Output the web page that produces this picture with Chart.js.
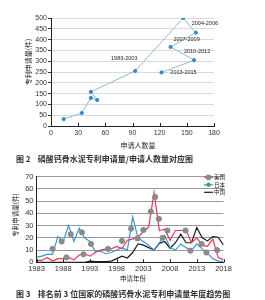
<!DOCTYPE html>
<html>
<head>
<meta charset="utf-8">
<script src="https://cdn.jsdelivr.net/npm/chart.js@4.4.0/dist/chart.umd.min.js"></script>
<style>
  body { margin: 0; width: 265px; height: 300px; background: #fff; position: relative; overflow: hidden;
         font-family: "Noto Sans CJK SC", "Liberation Sans", sans-serif; color: #222; }
  canvas { position: absolute; left: 0; }
  .t { position: absolute; white-space: nowrap; line-height: 1; }
  .c { transform: translate(-50%, -50%); }
  .v { transform: translate(-50%, -50%) rotate(-90deg); }
  .cap { font-size: 8px; font-weight: bold; transform: translateY(-50%); color: #333; }
</style>
</head>
<body>
<canvas id="fig2" width="265" height="150" style="top:0"></canvas>
<canvas id="fig3" width="265" height="110" style="top:166px"></canvas>

<div class="t v" style="left:27.7px;top:61.5px;font-size:7px">专利申请量(件)</div>
<div class="t c" style="left:138px;top:145px;font-size:7px">申请人数量</div>
<div class="t cap" style="left:16px;top:159px">图 2&nbsp;&nbsp;&nbsp;&nbsp;磷酸钙骨水泥专利申请量/申请人数量对应图</div>

<div class="t v" style="left:15px;top:215px;font-size:6.5px">专利申请量(件)</div>
<div class="t c" style="left:133px;top:278px;font-size:6.5px">申请年份</div>
<div class="t cap" style="left:16px;top:294px">图 3&nbsp;&nbsp;&nbsp;&nbsp;排名前 3 位国家的磷酸钙骨水泥专利申请量年度趋势图</div>

<script>
/* Fig 2: filings vs applicants per 3-year period */
const applicants = [14, 34, 44, 51, 44, 93, 146, 160, 132, 158, 122];
const filings = [32, 60, 130, 120, 158, 255, 500, 432, 366, 305, 248];
const periodLabels = [null, null, null, null, null, "1983-2003", null, "2004-2006", "2007-2009", "2010-2012", "2013-2015"];
const fig2XTicks = [0, 30, 60, 90, 120, 150, 180];
const fig2YTicks = [0, 50, 100, 150, 200, 250, 300, 350, 400, 450, 500];

/* Fig 3: yearly filings of the top 3 countries */
const years = [1983, 1984, 1985, 1986, 1987, 1988, 1989, 1990, 1991, 1992,
               1993, 1994, 1995, 1996, 1997, 1998, 1999, 2000, 2001, 2002,
               2003, 2004, 2005, 2006, 2007, 2008, 2009, 2010, 2011, 2012,
               2013, 2014, 2015, 2016, 2017, 2018];
const countries = ["美国", "日本", "中国"];
const usFilings = [1.5, 1.5, 4, 1, 3, 3, 4, 2, 6, 7,
                   5, 8, 10, 11, 11, 13, 11, 18, 19, 21,
                   25, 29, 57, 26, 27, 18, 26, 26, 26, 16,
                   20, 14, 13, 19, 4, 2];
const jpFilings = [4, 5, 6.5, 6.5, 21, 17, 30, 17, 28, 20,
                   17, 9, 9, 7, 8, 10, 12, 10, 37, 20,
                   17, 14, 10, 16, 22, 12, 10, 15, 12, 9.5,
                   15, 11, 7.5, 3, 1, 0.5];
const cnFilings = [0, 0, 0, 0, 0, 0, 0, 0, 0, 0,
                   1, 0.5, 0.5, 0.5, 1, 3, 5, 3.5, 8, 15,
                   14, 12, 10, 15.5, 17, 11.5, 16, 23, 16, 16,
                   28.5, 20, 17.5, 21, 20.5, 14];
const markerYears = [1986, 1987.7, 1988.6, 1989.4, 1991.5, 1991.8, 1993.2, 1996.4, 1999, 2000.7, 2001.9,
                     2003, 2004.4, 2005.2, 2005.9, 2006.6, 2007.5, 2010.9, 2011.8, 2013.9, 2014.8, 2016.8];
const markerValues = [11, 17, 4, 23, 24.5, 6.5, 15, 11, 17.5, 27.5, 19.5,
                      26.5, 41.5, 53.5, 35.5, 20, 26, 26, 9.5, 15, 8, 10];
const fig3XTicks = [1983, 1988, 1993, 1998, 2003, 2008, 2013, 2018];
const fig3YTicks = [0, 10, 20, 30, 40, 50, 60, 70];

// label placement next to its point (px offsets of the label centre)
const labelOffsets = {
  "1983-2003": [-11, -12],
  "2004-2006": [9, -9],
  "2007-2009": [16, -7],
  "2010-2012": [3, -9],
  "2013-2015": [22, 0],
};

const tickFont = { family: "Liberation Sans", size: 7 };

// small tick marks pointing up into the plot from the x axis
const insideTicks = {
  id: "insideTicks",
  afterDraw(chart) {
    const x = chart.scales.x, ctx = chart.ctx;
    ctx.save();
    ctx.strokeStyle = "#222";
    ctx.lineWidth = 1;
    x.ticks.forEach((t) => {
      const px = Math.round(x.getPixelForValue(t.value)) + 0.5;
      ctx.beginPath();
      ctx.moveTo(px, x.top);
      ctx.lineTo(px, x.top - 3);
      ctx.stroke();
    });
    ctx.restore();
  },
};

const periodLabelPlugin = {
  id: "periodLabels",
  afterDatasetsDraw(chart) {
    const meta = chart.getDatasetMeta(0), ctx = chart.ctx;
    ctx.save();
    ctx.font = "5.5px 'Liberation Sans'";
    ctx.fillStyle = "#222";
    ctx.textAlign = "center";
    ctx.textBaseline = "middle";
    periodLabels.forEach((lab, i) => {
      if (!lab) return;
      const el = meta.data[i], off = labelOffsets[lab] || [0, 0];
      ctx.fillText(lab, el.x + off[0], el.y + off[1]);
    });
    ctx.restore();
  },
};

new Chart(document.getElementById("fig2"), {
  type: "line",
  data: {
    datasets: [{
      data: applicants.map((a, i) => ({ x: a, y: filings[i] })),
      borderColor: "#8fb8dc",
      borderWidth: 1,
      pointRadius: 1.6,
      pointBackgroundColor: "#2f8bc4",
      pointBorderColor: "#2f8bc4",
      tension: 0,
    }],
  },
  options: {
    responsive: false,
    animation: false,
    layout: { padding: { top: 18, right: 51, left: 0, bottom: 0 } },
    plugins: { legend: { display: false }, tooltip: { enabled: false } },
    scales: {
      x: {
        type: "linear", min: 0, max: 180,
        afterBuildTicks: (s) => { s.ticks = fig2XTicks.map((v) => ({ value: v })); },
        afterFit: (s) => { s.height = 24; },
        grid: { display: false, drawTicks: false },
        border: { color: "#222" },
        ticks: { font: tickFont, color: "#333", padding: 3, maxRotation: 0, autoSkip: false },
      },
      y: {
        min: 0, max: 500,
        afterBuildTicks: (s) => { s.ticks = fig2YTicks.map((v) => ({ value: v })); },
        afterFit: (s) => { s.width = 51; },
        grid: { color: "#dadada", tickColor: "#333", tickLength: 3 },
        border: { color: "#222" },
        ticks: { font: tickFont, color: "#333", padding: 1, autoSkip: false },
      },
    },
  },
  plugins: [insideTicks, periodLabelPlugin],
});

// legend drawn inside the plot, top right
const seriesLegend = {
  id: "seriesLegend",
  afterDraw(chart) {
    const { ctx, chartArea } = chart;
    const x0 = chartArea.right - 19.5, x1 = chartArea.right - 10.5;
    ctx.save();
    ctx.font = "5.5px 'Noto Sans CJK SC'";
    ctx.textBaseline = "middle";
    chart.data.datasets.forEach((ds) => {
      if (ds.legendRow == null) return;
      const y = chartArea.top + 0.6 + ds.legendRow * 7.5;
      ctx.strokeStyle = ds.borderColor;
      ctx.lineWidth = 1.2;
      ctx.beginPath();
      ctx.moveTo(x0, y);
      ctx.lineTo(x1, y);
      ctx.stroke();
      if (ds.legendMarker) {
        ctx.fillStyle = ds.legendMarker.color;
        ctx.strokeStyle = ds.legendMarker.color;
        Chart.helpers.drawPoint(ctx, {
          pointStyle: ds.legendMarker.style, radius: 2.3, rotation: 0, borderWidth: 1,
        }, (x0 + x1) / 2, y);
      }
      ctx.fillStyle = "#222";
      ctx.fillText(ds.label, x1 + 1, y);
    });
    ctx.restore();
  },
};

const lineStyle = { borderWidth: 1.2, pointRadius: 0, tension: 0, order: 1 };

new Chart(document.getElementById("fig3"), {
  type: "line",
  data: {
    datasets: [
      {
        label: "gray markers",
        data: markerYears.map((y, i) => ({ x: y, y: markerValues[i] })),
        showLine: false,
        pointRadius: 2.6,
        pointBackgroundColor: "#8a8a8a",
        pointBorderColor: "#8a8a8a",
        order: 0,
      },
      {
        ...lineStyle, label: countries[0], legendRow: 0,
        legendMarker: { style: "circle", color: "#8a8a8a" },
        data: years.map((y, i) => ({ x: y, y: usFilings[i] })),
        borderColor: "#e8384f",
      },
      {
        ...lineStyle, label: countries[1], legendRow: 1,
        legendMarker: { style: "star", color: "#3f9a96" },
        data: years.map((y, i) => ({ x: y, y: jpFilings[i] })),
        borderColor: "#3b97d3",
      },
      {
        ...lineStyle, label: countries[2], legendRow: 2,
        data: years.map((y, i) => ({ x: y, y: cnFilings[i] })),
        borderColor: "#1c1c1c",
      },
    ],
  },
  options: {
    responsive: false,
    animation: false,
    layout: { padding: { top: 10.7, right: 41.5, left: 0, bottom: 0 } },
    plugins: { legend: { display: false }, tooltip: { enabled: false } },
    scales: {
      x: {
        type: "linear", min: 1983, max: 2018,
        afterBuildTicks: (s) => { s.ticks = fig3XTicks.map((v) => ({ value: v })); },
        afterFit: (s) => { s.height = 13.7; },
        grid: { display: false, drawTicks: false },
        border: { color: "#222" },
        ticks: { font: { family: "Liberation Sans", size: 7.5 }, color: "#333", padding: 2,
                 maxRotation: 0, autoSkip: false, callback: (v) => String(v) },
      },
      y: {
        min: 0, max: 70,
        afterBuildTicks: (s) => { s.ticks = fig3YTicks.map((v) => ({ value: v })); },
        afterFit: (s) => { s.width = 36.5; },
        grid: { color: "#9a9a9a", drawTicks: false },
        border: { color: "#222" },
        ticks: { font: { family: "Liberation Sans", size: 7.5 }, color: "#333", padding: 3, autoSkip: false },
      },
    },
  },
  plugins: [insideTicks, seriesLegend],
});
</script>
</body>
</html>
